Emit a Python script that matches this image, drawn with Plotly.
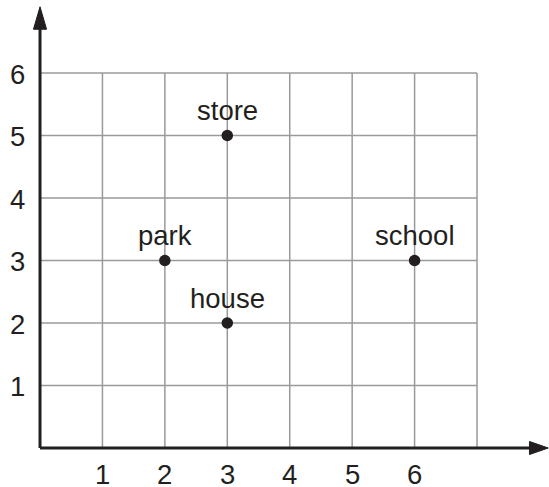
import plotly.graph_objects as go

# Data
places = ["store", "park", "house", "school"]
place_x = [3, 2, 3, 6]
place_y = [5, 3, 2, 3]
x_ticks = [1, 2, 3, 4, 5, 6]
y_ticks = [1, 2, 3, 4, 5, 6]
grid_x_max = 7
grid_y_max = 6

FONT = "Liberation Sans, Arial, Helvetica, sans-serif"
GRID = "#9a9a9a"
INK = "#231f20"
FS = 27.5

fig = go.Figure()

shapes = []
# grid lines
for gx in range(1, grid_x_max + 1):
    shapes.append(dict(type="line", xref="x", yref="y", x0=gx, x1=gx, y0=0, y1=grid_y_max,
                       line=dict(color=GRID, width=1.5), layer="below"))
for gy in range(1, grid_y_max + 1):
    shapes.append(dict(type="line", xref="x", yref="y", x0=0, x1=grid_x_max, y0=gy, y1=gy,
                       line=dict(color=GRID, width=1.5), layer="below"))
# axes
shapes.append(dict(type="line", xref="x", yref="y", x0=0, x1=7.9, y0=0, y1=0,
                   line=dict(color=INK, width=3)))
shapes.append(dict(type="line", xref="x", yref="y", x0=0, x1=0, y0=0, y1=6.75,
                   line=dict(color=INK, width=3)))
# arrowheads
shapes.append(dict(type="path", xref="x", yref="y",
                   path="M 7.84 0.105 L 8.14 0 L 7.84 -0.105 Z",
                   fillcolor=INK, line=dict(color=INK, width=1)))
shapes.append(dict(type="path", xref="x", yref="y",
                   path="M -0.105 6.70 L 0 7.06 L 0.105 6.70 Z",
                   fillcolor=INK, line=dict(color=INK, width=1)))

fig.add_trace(go.Scatter(x=place_x, y=place_y, mode="markers",
                         marker=dict(color=INK, size=11.5), hoverinfo="skip",
                         showlegend=False))

annotations = []
for name, px, py in zip(places, place_x, place_y):
    annotations.append(dict(x=px, y=py, xref="x", yref="y", text=name, showarrow=False,
                            yshift=25, font=dict(family=FONT, size=FS, color=INK)))
for t in x_ticks:
    annotations.append(dict(x=t, y=0, xref="x", yref="y", text=str(t), showarrow=False,
                            yshift=-26, font=dict(family=FONT, size=FS, color=INK)))
for t in y_ticks:
    annotations.append(dict(x=0, y=t, xref="x", yref="y", text=str(t), showarrow=False,
                            xshift=-23, yshift=-1, font=dict(family=FONT, size=FS, color=INK)))

fig.update_layout(
    width=549, height=487,
    margin=dict(l=0, r=0, t=0, b=0),
    paper_bgcolor="white", plot_bgcolor="white",
    shapes=shapes, annotations=annotations,
    xaxis=dict(range=[-0.641, 8.153], visible=False, fixedrange=True),
    yaxis=dict(range=[-0.624, 7.168], visible=False, fixedrange=True),
    showlegend=False,
)

fig.write_html("out.html", config={"displayModeBar": False},
               post_script="document.body.style.margin='0';document.body.style.overflow='hidden';")
